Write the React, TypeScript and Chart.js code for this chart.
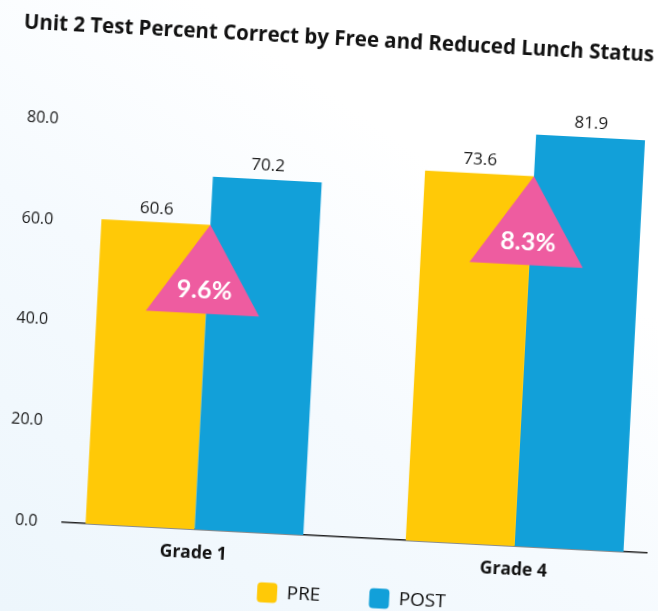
import React, { useEffect, useRef } from "react";
import { Chart, registerables } from "chart.js";

Chart.register(...registerables);

const titleText = "Unit 2 Test Percent Correct by Free and Reduced Lunch Status";
const categories = ["Grade 1", "Grade 4"];
const seriesNames = ["PRE", "POST"];
const preValues = [60.6, 73.6];
const postValues = [70.2, 81.9];
const seriesColors = ["#FFC907", "#12A0D9"];
const yTickStep = 20;
const yMax = 90;

const FONT = "'Open Sans', 'Noto Sans', sans-serif";
const TITLE_SIZE = 20.5;

export default function App() {
  const ref = useRef<HTMLCanvasElement | null>(null);

  useEffect(() => {
    const canvas = ref.current;
    if (!canvas) return;

    const annotations = {
      id: "annotations",
      afterLayout(chart: any) {
        // let the category labels below the axis line be drawn (not clipped)
        const s = chart.scales.x;
        s.bottom = s.top + 50;
      },
      afterDatasetsDraw(chart: any) {
        const ctx = chart.ctx;
        ctx.save();
        const preMeta = chart.getDatasetMeta(0);
        const postMeta = chart.getDatasetMeta(1);
        // change triangles
        preMeta.data.forEach((el: any, i: number) => {
          const ax = el.x + el.width / 2;
          const ay = el.y;
          ctx.beginPath();
          ctx.moveTo(ax, ay);
          ctx.lineTo(ax + 53.5, ay + 89);
          ctx.lineTo(ax - 60, ay + 89);
          ctx.closePath();
          ctx.fillStyle = "#EE5CA0";
          ctx.fill();
          const diff = postValues[i] - preValues[i];
          ctx.fillStyle = "#ffffff";
          ctx.font = `bold 25px Lato, ${FONT}`;
          ctx.textAlign = "center";
          ctx.textBaseline = "middle";
          ctx.fillText(diff.toFixed(1) + "%", ax - 2.5, ay + 66);
        });
        // value labels
        ctx.font = `17px ${FONT}`;
        ctx.fillStyle = "#1a1a1a";
        ctx.textAlign = "center";
        ctx.textBaseline = "middle";
        [preMeta, postMeta].forEach((meta: any, di: number) => {
          const vals = di === 0 ? preValues : postValues;
          meta.data.forEach((el: any, i: number) => {
            ctx.fillText(vals[i].toFixed(1), el.x, el.y - 13.5);
          });
        });
        ctx.restore();
      },
    };

    const chart = new Chart(canvas, {
      type: "bar",
      data: {
        datasets: [
          {
            label: seriesNames[0],
            data: preValues.map((v, i) => ({ x: i, y: v })),
            backgroundColor: seriesColors[0],
            borderWidth: 0,
          },
          {
            label: seriesNames[1],
            data: postValues.map((v, i) => ({ x: i, y: v })),
            backgroundColor: seriesColors[1],
            borderWidth: 0,
          },
        ],
      },
      options: {
        animation: false,
        responsive: false,
        devicePixelRatio: 1,
        events: [],
        categoryPercentage: 0.68,
        barPercentage: 1.0,
        layout: { padding: { left: 12, right: 20, top: 0, bottom: 10.5 } },
        plugins: {
          title: {
            display: true,
            text: titleText,
            color: "#111111",
            font: { family: FONT, size: TITLE_SIZE, weight: "bold" },
            padding: { top: 52.9 - 0.6 * TITLE_SIZE, bottom: 44.4 - 0.6 * TITLE_SIZE },
          },
          legend: {
            display: true,
            position: "bottom",
            fullSize: false,
            labels: {
              boxWidth: 20,
              boxHeight: 20,
              padding: 49,
              color: "#111111",
              font: { family: FONT, size: 19 },
              useBorderRadius: true,
              borderRadius: 4,
            },
          },
          tooltip: { enabled: false },
        },
        scales: {
          x: {
            type: "linear",
            min: -0.412,
            max: 1.412,
            offset: false,
            grid: { display: false, drawTicks: false },
            border: { display: true, color: "#222222", width: 1.5 },
            ticks: {
              stepSize: 1,
              includeBounds: false,
              autoSkip: false,
              maxRotation: 0,
              padding: 13.6,
              color: "#111111",
              font: { family: FONT, size: 17.5, weight: "bold" },
              callback: (v: any) => categories[v] ?? "",
            },
            afterFit: (s: any) => {
              s.height = 0.5;
            },
          },
          y: {
            min: 0,
            max: yMax,
            grid: { display: false, drawTicks: false },
            border: { display: false },
            ticks: {
              stepSize: yTickStep,
              includeBounds: false,
              padding: 25,
              color: "#1a1a1a",
              font: { family: FONT, size: 16 },
              callback: (v: any) => Number(v).toFixed(1),
            },
            afterFit: (s: any) => {
              s.width = 83.2;
            },
          },
        },
      },
      plugins: [annotations],
    } as any);

    return () => chart.destroy();
  }, []);

  return (
    <div
      style={{
        position: "fixed",
        left: 0,
        top: 0,
        width: 658,
        height: 611,
        overflow: "hidden",
        background:
          "linear-gradient(35deg, #edf6fc 0%, #f5fafe 40%, #ffffff 70%)",
      }}
    >
      <canvas
        ref={ref}
        width={700}
        height={640}
        style={{
          position: "absolute",
          left: -21.5,
          top: -14.5,
          width: 700,
          height: 640,
          transform: "rotate(3deg)",
          transformOrigin: "350.5px 320px",
        }}
      />
    </div>
  );
}
